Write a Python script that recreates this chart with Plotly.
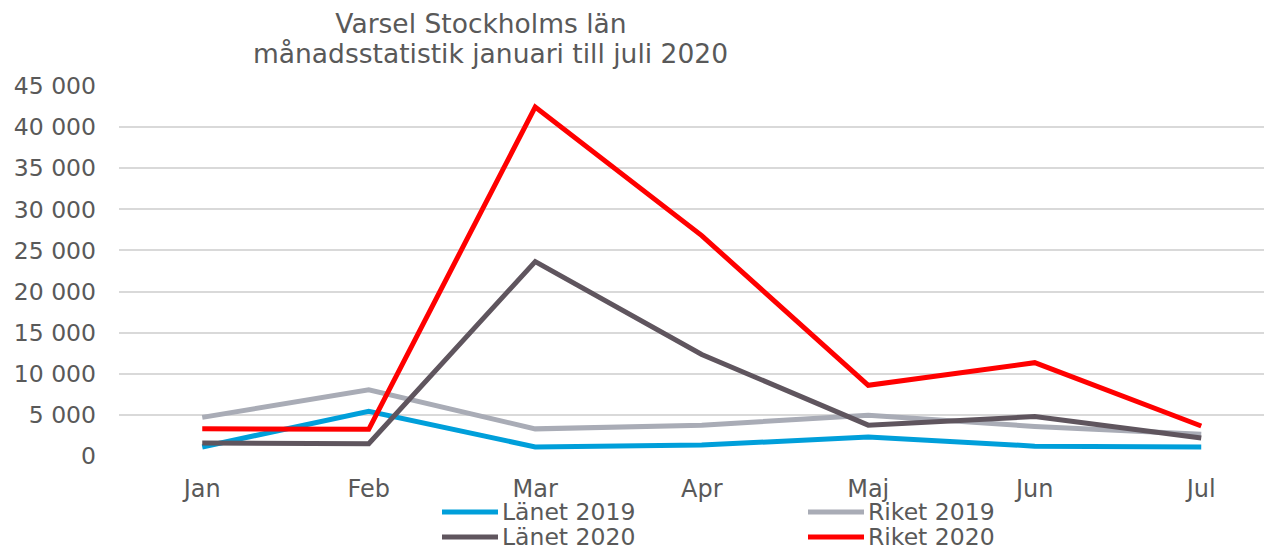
import plotly.graph_objects as go

months = ["Jan", "Feb", "Mar", "Apr", "Maj", "Jun", "Jul"]
lanet_2019 = [1100, 5450, 1100, 1330, 2300, 1200, 1100]
riket_2019 = [4700, 8050, 3300, 3750, 4950, 3600, 2650]
lanet_2020 = [1580, 1500, 23650, 12350, 3750, 4800, 2200]
riket_2020 = [3300, 3250, 42450, 26800, 8600, 11350, 3650]
y_ticks = [0, 5000, 10000, 15000, 20000, 25000, 30000, 35000, 40000, 45000]
y_tick_labels = ["0", "5 000", "10 000", "15 000", "20 000", "25 000", "30 000", "35 000", "40 000", "45 000"]
title_line1 = "Varsel Stockholms län"
title_line2 = "månadsstatistik januari till juli 2020"

series = [
    ("Länet 2019", lanet_2019, "#009FDA"),
    ("Riket 2019", riket_2019, "#A9ACB6"),
    ("Länet 2020", lanet_2020, "#5F555E"),
    ("Riket 2020", riket_2020, "#FF0000"),
]

# page body has an 8px default margin; lay the figure out in figure pixels
OFF = 8
W, H = 1272 - OFF, 548 - OFF
L, R, T, B = 119 - OFF, 0, 86 - OFF, 548 - 456
pw = W - L - R
ph = H - T - B

fig = go.Figure()
for name, vals, col in series:
    fig.add_trace(go.Scatter(x=months, y=vals, name=name, mode="lines",
                             line=dict(color=col, width=5), showlegend=False))

font_family = "DejaVu Sans"
txt = "#595959"

# manual legend (2 columns x 2 rows), positions given in reference pixels
leg_x0 = [442, 808]
leg_y = [512, 537]
shapes = []
annotations = []
for i, (name, vals, col) in enumerate(series):
    cx = leg_x0[i % 2] - OFF
    cy = leg_y[i // 2] - OFF
    x0 = (cx - L) / pw
    x1 = (cx + 56 - L) / pw
    yp = (H - B - cy) / ph
    shapes.append(dict(type="line", xref="paper", yref="paper", x0=x0, x1=x1, y0=yp, y1=yp,
                       line=dict(color=col, width=5)))
    annotations.append(dict(text=name, xref="paper", yref="paper", x=(cx + 58 - L) / pw, y=yp,
                            xanchor="left", yanchor="middle", showarrow=False,
                            font=dict(size=23.5, color=txt, family=font_family)))

# second title line
annotations.append(dict(text=title_line2, xref="paper", yref="paper",
                        x=(490 - OFF - L) / pw, y=(H - B - (53 - OFF)) / ph,
                        xanchor="center", yanchor="middle", showarrow=False,
                        font=dict(size=26.5, color=txt, family=font_family)))

fig.update_layout(
    width=W, height=H,
    margin=dict(l=L, r=R, t=T, b=B, autoexpand=False),
    paper_bgcolor="white", plot_bgcolor="white",
    font=dict(family=font_family, color=txt, size=23),
    title=dict(text=title_line1, xref="container", yref="container",
               x=(481 - OFF) / W, xanchor="center", y=1 - (24 - OFF) / H, yanchor="middle",
               font=dict(size=26.5, color=txt, family=font_family)),
    xaxis=dict(range=[-0.5, 6.425], showgrid=False, zeroline=False, showline=False,
               ticks="", automargin=False, ticklabelstandoff=16,
               tickfont=dict(size=24, color=txt)),
    yaxis=dict(range=[0, 45000], tickvals=y_ticks, ticktext=y_tick_labels,
               showgrid=True, gridcolor="#D9D9D9", gridwidth=1.5, zeroline=False,
               showline=False, ticks="", automargin=False, ticklabelstandoff=22,
               tickfont=dict(size=23.5, color=txt)),
    shapes=shapes,
    annotations=annotations,
    showlegend=False,
)
fig.write_html("out.html")
